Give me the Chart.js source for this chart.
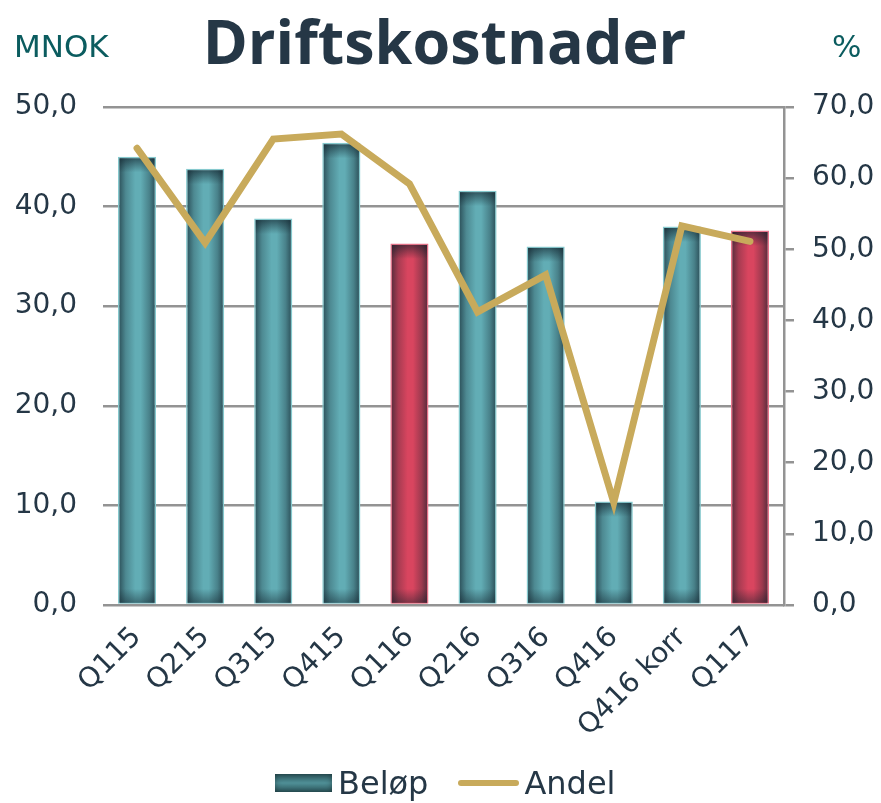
<!DOCTYPE html>
<html>
<head>
<meta charset="utf-8">
<script src="https://cdn.jsdelivr.net/npm/chart.js@4.4.1/dist/chart.umd.min.js"></script>
<style>
  body { margin: 0; background: #fff; }
  #wrap { position: relative; width: 881px; height: 803px; }
  .txt { position: absolute; white-space: nowrap; line-height: 1; }
  #title { left: 0; width: 889px; text-align: center; top: -1px; font: 700 61px "Open Sans", sans-serif; color: #253746; }
  #unitL { left: 14px; top: 28px; font: 31px "DejaVu Sans", sans-serif; color: #0b5c5f; }
  #unitR { left: 832px; top: 28px; font: 31px "DejaVu Sans", sans-serif; color: #0b5c5f; }
  #legend { position: absolute; left: 275px; top: 765px; height: 36px; display: flex; align-items: center; font: 32px "DejaVu Sans", sans-serif; color: #253746; }
  .box { width: 57px; height: 18px; background: linear-gradient(#2e5a60, #4f8f96 50%, #2e5a60); margin-right: 6px; box-shadow: inset 0 0 6px rgba(0,0,0,0.4); }
  .ln { width: 61px; height: 6px; border-radius: 3px; background: #c8aa5b; margin-left: 30px; margin-right: 5px; }
</style>
</head>
<body>
<div id="wrap">
  <canvas id="driftChart" width="881" height="803"></canvas>
  <div class="txt" id="title">Driftskostnader</div>
  <div class="txt" id="unitL">MNOK</div>
  <div class="txt" id="unitR">%</div>
  <div id="legend"><span class="box"></span><span>Beløp</span><span class="ln"></span><span>Andel</span></div>
</div>
<script>
var categories = ['Q115', 'Q215', 'Q315', 'Q415', 'Q116', 'Q216', 'Q316', 'Q416', 'Q416 korr', 'Q117'];
var belop = [45.0, 43.8, 38.8, 46.4, 36.3, 41.6, 36.0, 10.4, 38.0, 37.6];
var andel = [64.2, 50.9, 65.5, 66.2, 59.2, 41.2, 46.4, 14.4, 53.3, 51.1];
var highlighted = ['Q116', 'Q117'];
var leftTicks = [0, 10, 20, 30, 40, 50];
var rightTicks = [0, 10, 20, 30, 40, 50, 60, 70];

var isRed = function(i) { return highlighted.indexOf(categories[i]) >= 0; };
var fmt = function(v) { return v.toFixed(1).replace('.', ','); };
var tickFont = { family: 'DejaVu Sans', size: 28 };

// cylinder-ish shading on top of the flat bars
var barShade = {
    id: 'barShade',
    afterDatasetDraw: function(chart, args) {
        if (args.index !== 0) return;
        var c = chart.ctx;
        args.meta.data.forEach(function(el) {
            var l = el.x - el.width / 2 + 1.5, r = el.x + el.width / 2 - 1.5;
            var t = el.y + 1.5, b = el.base - 1;
            var g = c.createLinearGradient(l, 0, r, 0);
            g.addColorStop(0, 'rgba(15,30,40,0.6)');
            g.addColorStop(0.18, 'rgba(15,30,40,0.25)');
            g.addColorStop(0.45, 'rgba(15,30,40,0)');
            g.addColorStop(0.6, 'rgba(15,30,40,0)');
            g.addColorStop(0.85, 'rgba(15,30,40,0.3)');
            g.addColorStop(1, 'rgba(15,30,40,0.6)');
            c.save();
            c.fillStyle = g;
            c.fillRect(l, t, r - l, b - t);
            var h = Math.min(14, (b - t) / 3);
            var gt = c.createLinearGradient(0, t, 0, t + h);
            gt.addColorStop(0, 'rgba(15,30,40,0.6)');
            gt.addColorStop(1, 'rgba(15,30,40,0)');
            c.fillStyle = gt;
            c.fillRect(l, t, r - l, h);
            var gb = c.createLinearGradient(0, b - h, 0, b);
            gb.addColorStop(0, 'rgba(15,30,40,0)');
            gb.addColorStop(1, 'rgba(15,30,40,0.45)');
            c.fillStyle = gb;
            c.fillRect(l, b - h, r - l, h);
            c.restore();
        });
    }
};

var ctx = document.getElementById('driftChart');
var chart = new Chart(ctx, {
    type: 'bar',
    data: {
        labels: categories,
        datasets: [{
            label: 'Beløp',
            data: belop,
            yAxisID: 'y',
            order: 1,
            backgroundColor: belop.map(function(v, i) { return isRed(i) ? '#d9455f' : '#62adb5'; }),
            borderColor: belop.map(function(v, i) { return isRed(i) ? '#e8748b' : '#86c9ce'; }),
            borderWidth: 1.5,
            barPercentage: 0.56,
            categoryPercentage: 1
        }, {
            type: 'line',
            label: 'Andel',
            data: andel,
            yAxisID: 'y1',
            order: 0,
            borderColor: '#c8aa5b',
            borderWidth: 7,
            borderCapStyle: 'round',
            borderJoinStyle: 'miter',
            pointRadius: 0,
            tension: 0
        }]
    },
    options: {
        responsive: false,
        animation: false,
        layout: { padding: { top: 107, bottom: 48, left: 0, right: 0 } },
        plugins: { legend: { display: false }, tooltip: { enabled: false } },
        scales: {
            x: {
                grid: { display: false },
                border: { display: false },
                ticks: { color: '#253746', font: tickFont, minRotation: 45, maxRotation: 45, padding: 8 },
                afterFit: function(s) { s.height = 150; }
            },
            y: {
                position: 'left',
                min: 0, max: 50,
                afterBuildTicks: function(s) { s.ticks = leftTicks.map(function(v) { return { value: v }; }); },
                grid: { color: '#939393', lineWidth: 2.5, drawTicks: false },
                border: { display: false },
                ticks: { color: '#253746', font: tickFont, padding: 26, callback: fmt },
                afterFit: function(s) { s.width = 103; }
            },
            y1: {
                position: 'right',
                min: 0, max: 70,
                afterBuildTicks: function(s) { s.ticks = rightTicks.map(function(v) { return { value: v }; }); },
                grid: { drawOnChartArea: false, color: '#939393', lineWidth: 2.5, tickLength: 10 },
                border: { display: true, color: '#939393', width: 2.5 },
                ticks: { color: '#253746', font: tickFont, padding: 18, callback: fmt },
                afterFit: function(s) { s.width = 97; }
            }
        }
    },
    plugins: [barShade]
});
</script>
</body>
</html>
